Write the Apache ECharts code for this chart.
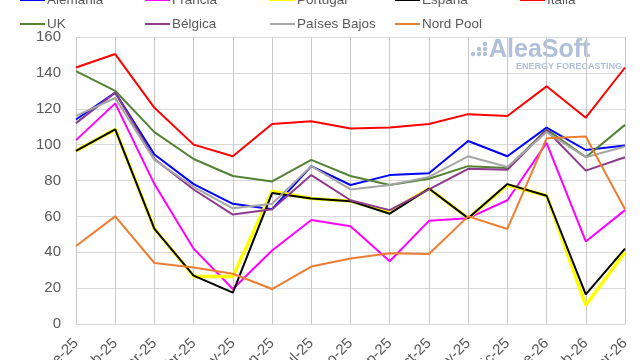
<!DOCTYPE html>
<html>
<head>
<meta charset="utf-8">
<script src="https://cdn.jsdelivr.net/npm/echarts@6/dist/echarts.min.js"></script>
<style>html,body{margin:0;padding:0;background:#fff}#c{width:640px;height:360px}</style>
</head>
<body>
<div id="c"></div>
<script>
const categories = ['ene-25','feb-25','mar-25','abr-25','may-25','jun-25','jul-25','ago-25','sep-25','oct-25','nov-25','dic-25','ene-26','feb-26','mar-26'];
const alemania = [114, 129, 94.5, 78, 67, 64, 88, 77.5, 83, 84, 102, 93.5, 109.5, 97, 99.5];
const francia  = [102.5, 123, 78, 42, 19.5, 41, 58, 54.5, 35, 57.5, 59, 69, 101, 46, 63.5];
const portugal = [96.5, 108.5, 53, 26.5, 26.5, 74, 70, 68.5, 62.5, 75.5, 59, 77.5, 71.5, 10.5, 40];
const espana   = [96.5, 108.5, 53, 27, 17.5, 73, 70, 68.5, 61.5, 75.5, 59, 78, 71.5, 16.5, 42];
const italia   = [143, 150.5, 120.5, 100, 93.5, 111.5, 113, 109, 109.5, 111.5, 117, 116, 132.5, 115, 143];
const uk       = [141, 130, 107, 92, 82.5, 79.5, 91.5, 82.5, 77.5, 81, 88, 87, 108.5, 93, 111];
const belgica  = [112, 129, 92, 75, 61, 64, 83, 69, 63.5, 75, 86.5, 86, 108, 85.5, 93];
const paises   = [116, 126, 91.5, 76.5, 64.5, 67, 88, 75, 77.5, 82, 93.5, 87.5, 107, 93, 99];
const nordpool = [43.5, 60, 34, 31.5, 28, 19.5, 32, 36.5, 39.5, 39, 60, 53, 103.5, 104.5, 64];
const yTicks = {min: 0, max: 160, interval: 20};

const FONT = 'Liberation Sans';
const TXT = '#595959';
const seriesDefs = [
  ['Alemania', alemania, '#0000ff', 2],
  ['Francia', francia, '#ff00ff', 2],
  ['Portugal', portugal, '#ffff00', 3.5],
  ['España', espana, '#000000', 2],
  ['Italia', italia, '#ff0000', 2],
  ['UK', uk, '#548235', 2],
  ['Bélgica', belgica, '#8e3a8f', 2],
  ['Países Bajos', paises, '#a6a6a6', 2],
  ['Nord Pool', nordpool, '#ed7d31', 2]
];
const columns = [['Alemania','UK'],['Francia','Bélgica'],['Portugal','Países Bajos'],['España','Nord Pool'],['Italia']];
const legends = columns.map((names, i) => ({
  orient: 'vertical', left: 20 + i * 125, top: -8, padding: 0, itemGap: 8,
  itemWidth: 25, itemHeight: 2, icon: 'rect', selectedMode: false,
  data: names,
  textStyle: {fontFamily: FONT, fontSize: 13.5, color: TXT, lineHeight: 16, padding: [0,0,0,-3]}
}));

const chart = echarts.init(document.getElementById('c'));
chart.setOption({
  animation: false,
  backgroundColor: '#fff',
  legend: legends,
  grid: {left: 76, right: 15, top: 37, bottom: 36, containLabel: false, outerBoundsMode: 'none'},
  xAxis: {
    type: 'category', data: categories, boundaryGap: false,
    axisLine: {lineStyle: {color: '#d9d9d9', width: 1}},
    axisTick: {show: false},
    splitLine: {show: true, lineStyle: {color: '#c8c8c8', width: 1}},
    axisLabel: {rotate: 45, margin: 17, fontFamily: FONT, fontSize: 15, color: TXT, interval: 0}
  },
  yAxis: {
    type: 'value', min: yTicks.min, max: yTicks.max, interval: yTicks.interval,
    axisLine: {show: false}, axisTick: {show: false},
    splitLine: {lineStyle: {color: '#d9d9d9', width: 1}},
    axisLabel: {margin: 15, fontFamily: FONT, fontSize: 15, color: TXT}
  },
  graphic: [
    {type: 'group', silent: true, z: 0, children: [
      {type: 'circle', shape: {cx: 473, cy: 54, r: 2.2}, style: {fill: '#b0bfda'}},
      {type: 'circle', shape: {cx: 479, cy: 49, r: 2.2}, style: {fill: '#b0bfda'}},
      {type: 'circle', shape: {cx: 479, cy: 54, r: 2.2}, style: {fill: '#b0bfda'}},
      {type: 'circle', shape: {cx: 485, cy: 44, r: 2.2}, style: {fill: '#b0bfda'}},
      {type: 'circle', shape: {cx: 485, cy: 49, r: 2.2}, style: {fill: '#b0bfda'}},
      {type: 'circle', shape: {cx: 485, cy: 54, r: 2.2}, style: {fill: '#b0bfda'}},
      {type: 'text', x: 489, y: 38, style: {text: 'AleaSoft', fontFamily: FONT, fontWeight: 'bold', fontSize: 25, fill: '#b0bfda'}},
      {type: 'text', x: 516, y: 62, style: {text: 'ENERGY FORECASTING', fontFamily: FONT, fontWeight: 'bold', fontSize: 9, fill: '#b0bfda'}}
    ]}
  ],
  series: seriesDefs.map(([name, data, color, w]) => ({
    name, type: 'line', data, symbol: 'none', color,
    lineStyle: {color, width: w}, z: 3
  }))
});
</script>
</body>
</html>
